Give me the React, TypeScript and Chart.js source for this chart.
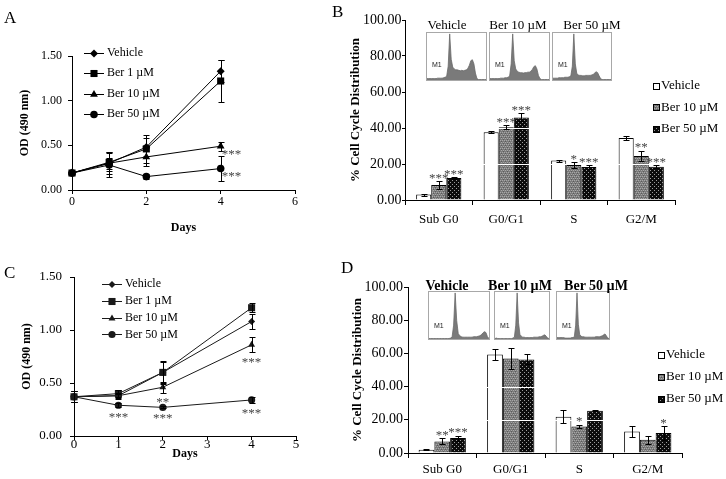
import React, { useEffect, useRef } from "react";
import { Chart, registerables } from "chart.js";

Chart.register(...registerables);

const SERIF = "'Liberation Serif', 'Times New Roman', serif";
const SANS = "'Liberation Sans', Arial, sans-serif";

// ---------------- Panel A : OD (490 nm) vs days ----------------
const daysA = [0, 1, 2, 4];
const aXTicks = [0, 2, 4, 6];
const aYTicks = [0, 0.5, 1.0, 1.5];
const aVehicle = [0.19, 0.3, 0.48, 1.33];
const aVehicleErr = [0, 0.12, 0.1, 0.12];
const aBer1 = [0.19, 0.31, 0.46, 1.22];
const aBer1Err = [0, 0.1, 0.16, 0.23];
const aBer10 = [0.19, 0.3, 0.37, 0.49];
const aBer10Err = [0, 0.06, 0.1, 0.05];
const aBer50 = [0.19, 0.28, 0.15, 0.24];
const aBer50Err = [0, 0.14, 0.03, 0.14];
const aBer10Stars = ["", "", "", "***"];
const aBer50Stars = ["", "", "", "***"];

// ---------------- Panel C : OD (490 nm) vs days ----------------
const daysC = [0, 1, 2, 4];
const cXTicks = [0, 1, 2, 3, 4, 5];
const cYTicks = [0, 0.5, 1.0, 1.5];
const cVehicle = [0.37, 0.38, 0.6, 1.08];
const cVehicleErr = [0.05, 0.03, 0.1, 0.07];
const cBer1 = [0.37, 0.4, 0.6, 1.21];
const cBer1Err = [0.05, 0.03, 0.11, 0.04];
const cBer10 = [0.37, 0.38, 0.46, 0.86];
const cBer10Err = [0.05, 0.02, 0.05, 0.07];
const cBer50 = [0.37, 0.29, 0.27, 0.34];
const cBer50Err = [0.05, 0.02, 0.01, 0.03];
const cBer10Stars = ["", "", "**", "***"];
const cBer50Stars = ["", "***", "***", "***"];

const lineSeries = ["Vehicle", "Ber 1 µM", "Ber 10 µM", "Ber 50 µM"];

// ---------------- Panels B / D : cell cycle distribution ----------------
const phases = ["Sub G0", "G0/G1", "S", "G2/M"];
const barSeries = ["Vehicle", "Ber 10 µM", "Ber 50 µM"];
const pctTicks = [0, 20, 40, 60, 80, 100];

const bVehicle = [3.0, 37.6, 21.9, 34.4];
const bVehicleErr = [0.6, 0.5, 0.6, 1.2];
const bBer10 = [8.3, 40.4, 19.4, 24.4];
const bBer10Err = [2.0, 1.2, 1.6, 2.8];
const bBer50 = [12.2, 45.9, 18.4, 18.5];
const bBer50Err = [0.5, 2.2, 1.0, 0.8];
const bBer10Stars = ["***", "***", "*", "**"];
const bBer50Stars = ["***", "***", "***", "***"];

const dVehicle = [2.0, 59.4, 21.8, 13.0];
const dVehicleErr = [0.3, 3.1, 4.0, 3.5];
const dBer10 = [7.0, 57.0, 16.0, 8.0];
const dBer10Err = [1.8, 6.2, 1.0, 2.5];
const dBer50 = [9.0, 56.4, 25.5, 12.0];
const dBer50Err = [1.5, 3.0, 0.3, 4.2];
const dBer10Stars = ["**", "", "*", ""];
const dBer50Stars = ["***", "", "", "*"];

// flow-cytometry histogram insets (relative counts per bin)
const insetTitles = ["Vehicle", "Ber 10 µM", "Ber 50 µM"];
const insetBVehicle = [3, 3, 3, 3, 3, 3, 3, 4, 4, 4, 4, 5, 6, 8, 30, 100, 45, 28, 24, 22, 22, 21, 20, 21, 20, 21, 22, 25, 32, 42, 44, 35, 15, 3, 1, 1, 1, 1, 1, 1];
const insetBBer10 = [3, 3, 3, 3, 3, 3, 3, 4, 4, 4, 5, 5, 6, 9, 35, 100, 42, 24, 19, 17, 16, 16, 15, 16, 16, 17, 17, 19, 23, 29, 31, 24, 10, 3, 1, 1, 1, 1, 1, 1];
const insetBBer50 = [4, 4, 4, 4, 5, 5, 5, 5, 6, 6, 6, 7, 9, 30, 100, 35, 14, 11, 10, 10, 9, 9, 10, 10, 10, 10, 11, 12, 15, 18, 16, 9, 3, 1, 1, 1, 1, 1, 1, 1];
const insetDVehicle = [1, 1, 1, 1, 1, 1, 1, 1, 1, 1, 1, 1, 1, 1, 2, 4, 30, 100, 40, 12, 7, 5, 4, 4, 4, 4, 4, 4, 4, 5, 5, 5, 6, 7, 9, 13, 16, 14, 5, 1];
const insetDBer10 = [1, 2, 1, 1, 1, 1, 1, 1, 1, 1, 1, 1, 1, 2, 4, 30, 100, 35, 10, 6, 4, 4, 3, 3, 3, 3, 3, 3, 4, 4, 4, 4, 5, 5, 6, 8, 9, 6, 2, 1];
const insetDBer50 = [3, 3, 3, 3, 3, 3, 2, 2, 2, 2, 2, 3, 3, 5, 30, 100, 32, 10, 6, 5, 5, 4, 4, 4, 4, 4, 4, 4, 4, 5, 5, 5, 5, 6, 7, 9, 11, 7, 2, 1];

// ---------------- helpers ----------------
function drawMarker(ctx: CanvasRenderingContext2D, style: string, x: number, y: number, r: number) {
  ctx.beginPath();
  if (style === "rectRot") {
    ctx.moveTo(x - r, y);
    ctx.lineTo(x, y - r);
    ctx.lineTo(x + r, y);
    ctx.lineTo(x, y + r);
    ctx.closePath();
  } else if (style === "rect") {
    const s = r * Math.SQRT1_2;
    ctx.rect(x - s, y - s, 2 * s, 2 * s);
  } else if (style === "triangle") {
    ctx.moveTo(x, y - r);
    ctx.lineTo(x + 0.866 * r, y + 0.5 * r);
    ctx.lineTo(x - 0.866 * r, y + 0.5 * r);
    ctx.closePath();
  } else {
    ctx.arc(x, y, r, 0, Math.PI * 2);
  }
  ctx.fill();
}

const annotPlugin = {
  id: "annot",
  afterDatasetsDraw(chart: any, _a: any, o: any) {
    const ctx: CanvasRenderingContext2D = chart.ctx;
    const ys = chart.scales.y;
    const area = chart.chartArea;
    ctx.save();
    if (o.overGrid) {
      ctx.strokeStyle = "#ffffff";
      ctx.lineWidth = 1;
      o.overGrid.forEach((v: number) => {
        const py = Math.round(ys.getPixelForValue(v)) + 0.5;
        ctx.beginPath();
        ctx.moveTo(area.left + 1, py);
        ctx.lineTo(area.right, py);
        ctx.stroke();
      });
    }
    chart.data.datasets.forEach((ds: any, di: number) => {
      const meta = chart.getDatasetMeta(di);
      const errs = ds.errors || [];
      const stars = ds.stars || [];
      meta.data.forEach((el: any, i: number) => {
        const d = ds.data[i];
        const v = typeof d === "number" ? d : d.y;
        const e = errs[i] || 0;
        const x = el.x;
        const top = ys.getPixelForValue(v + e);
        const bot = ys.getPixelForValue(v - e);
        if (e > 0) {
          ctx.strokeStyle = o.errColor || "#000";
          ctx.lineWidth = 1;
          const xx = Math.round(x) + 0.5;
          const t = Math.round(top) + 0.5;
          const b = Math.round(bot) + 0.5;
          ctx.beginPath();
          ctx.moveTo(xx, t);
          ctx.lineTo(xx, b);
          ctx.moveTo(xx - o.cap, t);
          ctx.lineTo(xx + o.cap, t);
          ctx.moveTo(xx - o.cap, b);
          ctx.lineTo(xx + o.cap, b);
          ctx.stroke();
        }
        const s = stars[i];
        if (s) {
          ctx.fillStyle = o.starColor;
          ctx.font = o.starFont;
          ctx.textBaseline = "middle";
          if (o.starMode === "right") {
            ctx.textAlign = "left";
            ctx.fillText(s, x + 1, el.y + 8);
          } else if (o.starMode === "below") {
            ctx.textAlign = "center";
            ctx.fillText(s, x, bot + 10);
          } else {
            ctx.textAlign = "center";
            ctx.fillText(s, x, Math.min(top, el.y) - 3);
          }
        }
      });
    });
    const L = o.legend;
    if (L) {
      ctx.font = L.font;
      ctx.textBaseline = "middle";
      ctx.textAlign = "left";
      chart.data.datasets.forEach((ds: any, di: number) => {
        const y = L.y + di * L.dy;
        if (L.kind === "line") {
          ctx.strokeStyle = ds.borderColor;
          ctx.lineWidth = 1;
          ctx.beginPath();
          ctx.moveTo(L.x, Math.round(y) + 0.5);
          ctx.lineTo(L.x + L.len, Math.round(y) + 0.5);
          ctx.stroke();
          ctx.fillStyle = ds.backgroundColor;
          drawMarker(ctx, ds.pointStyle, L.x + L.len / 2, Math.round(y) + 0.5, ds.pointRadius);
          ctx.fillStyle = "#000";
          ctx.fillText(ds.label, L.x + L.len + L.gap, y);
        } else {
          ctx.fillStyle = ds.backgroundColor;
          ctx.fillRect(L.x, Math.round(y - L.box / 2), L.box, L.box);
          ctx.strokeStyle = "#000";
          ctx.lineWidth = 1;
          ctx.strokeRect(L.x + 0.5, Math.round(y - L.box / 2) + 0.5, L.box - 1, L.box - 1);
          ctx.fillStyle = "#000";
          ctx.fillText(ds.label, L.x + L.box + L.gap, y);
        }
      });
    }
    ctx.restore();
  },
};

const insetPlugin = {
  id: "inset",
  afterDraw(chart: any, _a: any, o: any) {
    const ctx: CanvasRenderingContext2D = chart.ctx;
    const a = chart.chartArea;
    ctx.save();
    ctx.strokeStyle = "#a8a8a8";
    ctx.lineWidth = 1;
    ctx.strokeRect(a.left - 0.5, a.top - 0.5, a.right - a.left + 1, a.bottom - a.top + 1);
    ctx.fillStyle = "#222";
    ctx.font = `7px ${SANS}`;
    ctx.textBaseline = "middle";
    ctx.textAlign = "left";
    ctx.fillText(o.label, a.left + 5, a.top + (a.bottom - a.top) * o.labelY);
    ctx.restore();
  },
};

function makePattern(ctx: CanvasRenderingContext2D, kind: string) {
  const c = document.createElement("canvas");
  c.width = 4;
  c.height = 4;
  const p = c.getContext("2d")!;
  if (kind === "gray") {
    p.fillStyle = "#7b7b7b";
    p.fillRect(0, 0, 4, 4);
    p.fillStyle = "#a8a8a8";
    [[0, 0], [2, 0], [1, 2], [3, 2]].forEach(([x, y]) => p.fillRect(x, y, 1, 1));
    p.fillStyle = "#5c5c5c";
    [[1, 1], [3, 3]].forEach(([x, y]) => p.fillRect(x, y, 1, 1));
  } else {
    p.fillStyle = "#0c0c0c";
    p.fillRect(0, 0, 4, 4);
    p.fillStyle = "#9c9c9c";
    [[0, 0], [2, 2]].forEach(([x, y]) => p.fillRect(x, y, 1, 1));
  }
  return ctx.createPattern(c, "repeat");
}

const fixTicks = (vals: number[]) => (s: any) => {
  s.ticks = vals.map((v) => ({ value: v }));
};

function lineDataset(label: string, days: number[], vals: number[], errs: number[], stars: string[], style: string, radius: number, color: string) {
  return {
    label,
    data: days.map((d, i) => ({ x: d, y: vals[i] })),
    errors: errs,
    stars,
    borderColor: color,
    backgroundColor: color,
    borderWidth: 1,
    pointStyle: style,
    pointRadius: radius,
    pointBorderWidth: 0,
    pointHoverRadius: radius,
    tension: 0,
    clip: false,
  };
}

function buildLine(p: any) {
  const tick = { family: SERIF, size: p.tickSize };
  const title = { family: SERIF, size: 12, weight: "bold" as const };
  return {
    type: "line",
    data: { datasets: p.datasets },
    options: {
      animation: false,
      responsive: false,
      devicePixelRatio: 1,
      events: [],
      layout: { padding: { left: 0, top: p.padTop, right: p.padRight, bottom: 0 } },
      scales: {
        x: {
          type: "linear",
          min: p.xTicks[0],
          max: p.xTicks[p.xTicks.length - 1],
          afterBuildTicks: fixTicks(p.xTicks),
          ticks: { font: tick, color: "#000", padding: p.xTickPad, maxRotation: 0 },
          grid: { drawOnChartArea: false, tickLength: 4, color: "#000" },
          border: { color: "#000" },
          title: { display: true, text: "Days", font: title, color: "#000", padding: { top: 0, bottom: p.xTitlePad } },
          afterFit: (s: any) => {
            s.height = p.xAxisH;
          },
        },
        y: {
          min: p.yTicks[0],
          max: p.yTicks[p.yTicks.length - 1],
          afterBuildTicks: fixTicks(p.yTicks),
          ticks: { font: tick, color: "#000", padding: p.yTickPad, callback: (v: any) => Number(v).toFixed(2) },
          grid: { drawOnChartArea: false, tickLength: 4, color: "#000" },
          border: { color: "#000" },
          title: { display: true, text: "OD (490 nm)", font: title, color: "#000", padding: { top: p.yTitlePad, bottom: 0 } },
          afterFit: (s: any) => {
            s.width = p.yAxisW;
          },
        },
      },
      plugins: {
        legend: { display: false },
        tooltip: { enabled: false },
        annot: {
          cap: 3,
          starMode: p.starMode,
          starColor: "#444",
          starFont: `13px ${SERIF}`,
          legend: { kind: "line", x: p.legX, y: p.legY, dy: p.legDy, len: 20, gap: 3, font: `12px ${SERIF}` },
        },
      },
    },
    plugins: [annotPlugin],
  };
}

function buildBar(ctx: CanvasRenderingContext2D, p: any) {
  const pat10 = makePattern(ctx, "gray");
  const pat50 = makePattern(ctx, "dots");
  const mk = (label: string, data: number[], errors: number[], stars: string[], bg: any) => ({
    label,
    data,
    errors,
    stars,
    backgroundColor: bg,
    borderColor: "#000",
    borderWidth: 1,
    categoryPercentage: p.catPct,
    barPercentage: 1,
  });
  return {
    type: "bar",
    data: {
      labels: phases,
      datasets: [
        mk(barSeries[0], p.v[0], p.e[0], ["", "", "", ""], "#ffffff"),
        mk(barSeries[1], p.v[1], p.e[1], p.s[0], pat10),
        mk(barSeries[2], p.v[2], p.e[2], p.s[1], pat50),
      ],
    },
    options: {
      animation: false,
      responsive: false,
      devicePixelRatio: 1,
      events: [],
      layout: { padding: { left: 0, top: p.padTop, right: p.padRight, bottom: 0 } },
      scales: {
        x: {
          grid: { offset: true, drawOnChartArea: false, tickLength: 5, color: "#000" },
          border: { color: "#000" },
          ticks: { font: { family: SERIF, size: 13 }, color: "#000", padding: p.xTickPad },
          afterFit: (s: any) => {
            s.height = p.xAxisH;
          },
        },
        y: {
          min: 0,
          max: 100,
          afterBuildTicks: fixTicks(pctTicks),
          ticks: { font: { family: SERIF, size: 14 }, color: "#000", padding: p.yTickPad, callback: (v: any) => Number(v).toFixed(2) },
          grid: { drawOnChartArea: false, tickLength: p.yTickLen, color: "#000" },
          border: { color: "#000" },
          title: {
            display: true,
            text: "% Cell Cycle Distribution",
            font: { family: SERIF, size: 13, weight: "bold" },
            color: "#000",
            padding: { top: p.yTitlePad, bottom: 0 },
          },
          afterFit: (s: any) => {
            s.width = p.yAxisW;
          },
        },
      },
      plugins: {
        legend: { display: false },
        tooltip: { enabled: false },
        annot: {
          cap: 3,
          starMode: "above",
          starColor: "#444",
          starFont: `13px ${SERIF}`,
          overGrid: [20, 40, 60, 80],
          legend: { kind: "box", x: p.legX, y: p.legY, dy: p.legDy, box: 7, gap: 1, font: `13px ${SERIF}` },
        },
      },
    },
    plugins: [annotPlugin],
  };
}

function buildInset(data: number[], label: string, labelY: number) {
  return {
    type: "line",
    data: {
      labels: data.map((_, i) => String(i)),
      datasets: [
        {
          data,
          fill: "origin",
          backgroundColor: "#7a7a7a",
          borderColor: "#6a6a6a",
          borderWidth: 0.8,
          pointRadius: 0,
          tension: 0,
        },
      ],
    },
    options: {
      animation: false,
      responsive: false,
      devicePixelRatio: 1,
      events: [],
      layout: { padding: 1 },
      scales: { x: { display: false }, y: { display: false, min: 0, max: 102 } },
      plugins: { legend: { display: false }, tooltip: { enabled: false }, inset: { label, labelY } },
    },
    plugins: [insetPlugin],
  };
}

function ChartBox({ left, top, width, height, build }: any) {
  const ref = useRef<HTMLCanvasElement>(null);
  useEffect(() => {
    const c = ref.current!;
    const chart = new Chart(c, build(c.getContext("2d")) as any);
    return () => chart.destroy();
  }, []);
  return (
    <canvas
      ref={ref}
      width={width}
      height={height}
      style={{ position: "absolute", left, top, width, height }}
    />
  );
}

const buildA = () =>
  buildLine({
    datasets: [
      lineDataset(lineSeries[0], daysA, aVehicle, aVehicleErr, [], "rectRot", 4, "#000"),
      lineDataset(lineSeries[1], daysA, aBer1, aBer1Err, [], "rect", 5, "#000"),
      lineDataset(lineSeries[2], daysA, aBer10, aBer10Err, aBer10Stars, "triangle", 4.5, "#000"),
      lineDataset(lineSeries[3], daysA, aBer50, aBer50Err, aBer50Stars, "circle", 3.8, "#000"),
    ],
    xTicks: aXTicks,
    yTicks: aYTicks,
    tickSize: 12,
    padTop: 56,
    padRight: 65,
    xAxisH: 50,
    yAxisW: 72,
    xTickPad: 1,
    yTickPad: 6,
    xTitlePad: 4.8,
    yTitlePad: 17.8,
    starMode: "right",
    legX: 84,
    legY: 53,
    legDy: 20.3,
  });

const buildC = () =>
  buildLine({
    datasets: [
      lineDataset(lineSeries[0], daysC, cVehicle, cVehicleErr, [], "rectRot", 3.5, "#1a1a1a"),
      lineDataset(lineSeries[1], daysC, cBer1, cBer1Err, [], "rect", 5, "#1a1a1a"),
      lineDataset(lineSeries[2], daysC, cBer10, cBer10Err, cBer10Stars, "triangle", 4, "#1a1a1a"),
      lineDataset(lineSeries[3], daysC, cBer50, cBer50Err, cBer50Stars, "circle", 3.6, "#1a1a1a"),
    ],
    xTicks: cXTicks,
    yTicks: cYTicks,
    tickSize: 13,
    padTop: 37,
    padRight: 64,
    xAxisH: 43,
    yAxisW: 74,
    xTickPad: -3,
    yTickPad: 8,
    xTitlePad: 17.8,
    yTitlePad: 19.8,
    starMode: "below",
    legX: 102,
    legY: 44,
    legDy: 16.8,
  });

const buildB = (ctx: CanvasRenderingContext2D) =>
  buildBar(ctx, {
    v: [bVehicle, bBer10, bBer50],
    e: [bVehicleErr, bBer10Err, bBer50Err],
    s: [bBer10Stars, bBer50Stars],
    catPct: 0.67,
    padTop: 20,
    padRight: 51,
    xAxisH: 40,
    yAxisW: 65,
    xTickPad: 7,
    yTickPad: 0.5,
    yTickLen: 3,
    yTitlePad: 7.8,
    legX: 313,
    legY: 86,
    legDy: 21.5,
  });

const buildD = (ctx: CanvasRenderingContext2D) =>
  buildBar(ctx, {
    v: [dVehicle, dBer10, dBer50],
    e: [dVehicleErr, dBer10Err, dBer50Err],
    s: [dBer10Stars, dBer50Stars],
    catPct: 0.69,
    padTop: 47,
    padRight: 44,
    xAxisH: 26,
    yAxisW: 68,
    xTickPad: 4,
    yTickPad: 1,
    yTickLen: 4,
    yTitlePad: 9.8,
    legX: 318,
    legY: 115,
    legDy: 22,
  });

const insetsB = [
  { data: insetBVehicle, l: 427, r: 486, tx: 447 },
  { data: insetBBer10, l: 490, r: 549, tx: 518 },
  { data: insetBBer50, l: 553, r: 611, tx: 592 },
];
const insetsD = [
  { data: insetDVehicle, l: 429, r: 489, tx: 447 },
  { data: insetDBer10, l: 495, r: 549, tx: 520 },
  { data: insetDBer50, l: 557, r: 609, tx: 596 },
];

const letterStyle = (left: number, top: number): React.CSSProperties => ({
  position: "absolute",
  left,
  top,
  fontFamily: SERIF,
  fontSize: 17,
  lineHeight: "20px",
  color: "#000",
});

export default function App() {
  return (
    <div
      style={{
        position: "absolute",
        left: 0,
        top: 0,
        width: 726,
        height: 479,
        background: "#fff",
        overflow: "hidden",
        fontFamily: SERIF,
      }}
    >
      <ChartBox left={0} top={0} width={360} height={240} build={buildA} />
      <ChartBox left={0} top={240} width={360} height={239} build={buildC} />
      <ChartBox left={340} top={0} width={386} height={240} build={buildB} />
      <ChartBox left={340} top={240} width={386} height={239} build={buildD} />

      {insetsB.map((s, i) => (
        <React.Fragment key={"b" + i}>
          <ChartBox
            left={s.l - 1}
            top={32}
            width={s.r - s.l + 2}
            height={49}
            build={() => buildInset(s.data, "M1", 0.68)}
          />
          <div
            style={{
              position: "absolute",
              left: s.tx,
              top: 25,
              transform: "translate(-50%, -50%)",
              fontFamily: SERIF,
              fontSize: 13,
              whiteSpace: "nowrap",
              color: "#000",
            }}
          >
            {insetTitles[i]}
          </div>
        </React.Fragment>
      ))}

      {insetsD.map((s, i) => (
        <React.Fragment key={"d" + i}>
          <ChartBox
            left={s.l - 1}
            top={291}
            width={s.r - s.l + 2}
            height={49}
            build={() => buildInset(s.data, "M1", 0.72)}
          />
          <div
            style={{
              position: "absolute",
              left: s.tx,
              top: 286,
              transform: "translate(-50%, -50%)",
              fontFamily: SERIF,
              fontSize: 14,
              fontWeight: "bold",
              whiteSpace: "nowrap",
              color: "#000",
            }}
          >
            {insetTitles[i]}
          </div>
        </React.Fragment>
      ))}

      <div style={letterStyle(4, 8)}>A</div>
      <div style={letterStyle(332, 2)}>B</div>
      <div style={letterStyle(4, 263)}>C</div>
      <div style={letterStyle(341, 258)}>D</div>
    </div>
  );
}
